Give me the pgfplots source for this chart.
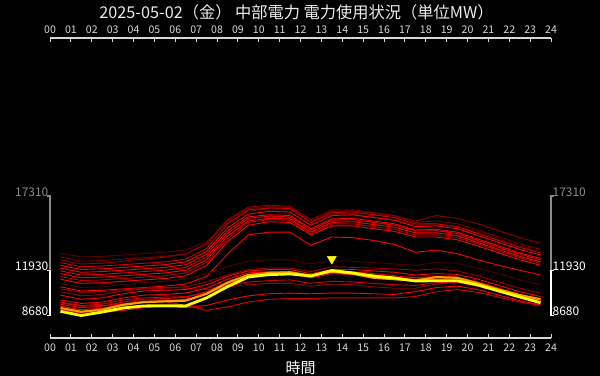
\documentclass[border=0pt]{standalone}
\usepackage{pgfplots}
\pgfplotsset{compat=1.18}
\usepackage{fontspec}
\setmainfont{Noto Sans CJK JP}
\usetikzlibrary{backgrounds}
\definecolor{axgray}{HTML}{D8D8D8}
\definecolor{lblgray}{HTML}{8A8A8A}
\definecolor{todayyellow}{HTML}{FFFF00}
\definecolor{yestorange}{HTML}{FF9A00}
\begin{document}
\begin{tikzpicture}
\pgfplotsset{
  base/.style={
    scale only axis, width=501bp, height=300bp,
    xmin=0, xmax=24, ymin=7055, ymax=28716,
    xtick={0,1,...,24},
    xticklabels={00,01,02,03,04,05,06,07,08,09,10,11,12,13,14,15,16,17,18,19,20,21,22,23,24},
    ytick={8680,11930,17310},
    yticklabels={\textcolor{white}{8680},\textcolor{white}{11930},\textcolor{lblgray}{17310}},
    /pgf/number format/assume math mode=true,
    clip=false,
    x axis line style={axgray, line width=1.2bp, -},
    y axis line style={draw=none},
    xtick style={axgray, line width=1bp},
    ytick style={draw=none},
    major tick length=4bp,
    tick align=inside,
    xticklabel style={font=\fontsize{10.6}{12}\selectfont, text=axgray, inner sep=0.3bp},
    yticklabel style={font=\fontsize{12}{13}\selectfont, yshift=4bp, inner sep=1.5bp},
  },
  ln/.style={no marks, line join=round, line width=0.9bp},
}
\begin{axis}[base, name=ax,
  axis x line*=bottom, axis y line*=left,
  xticklabel style={yshift=-5.5bp},
  xlabel={時間}, xlabel style={font=\fontsize{15}{17}\selectfont, text=white, yshift=-5bp},
]
% y brackets
\addplot[no marks, white, line width=1.5bp] coordinates {(-0.12,8680)(0,8680)(0,11930)(-0.12,11930)};
\addplot[no marks, lblgray, line width=1.5bp] coordinates {(0,11930)(0,17310)(-0.12,17310)};
\addplot[no marks, white, line width=1.5bp] coordinates {(24.12,8680)(24,8680)(24,11930)(24.12,11930)};
\addplot[no marks, lblgray, line width=1.5bp] coordinates {(24,11930)(24,17310)(24.12,17310)};
% upper band
\addplot[ln, red!35!black] coordinates {(0.5,13200)(1.5,12900)(2.5,12950)(3.5,13050)(4.5,13150)(5.5,13250)(6.5,13400)(7.5,14000)(8.5,15400)(9.5,16200)(10.5,16400)(11.5,16350)(12.5,15400)(13.5,16000)(14.5,16000)(15.5,15800)(16.5,15600)(17.5,15200)(18.5,15300)(19.5,15100)(20.5,14700)(21.5,14200)(22.5,13700)(23.5,13300)};
\addplot[ln, red!45!black] coordinates {(0.5,12900)(1.5,12600)(2.5,12650)(3.5,12750)(4.5,12850)(5.5,12950)(6.5,13150)(7.5,13800)(8.5,15500)(9.5,16400)(10.5,16550)(11.5,16500)(12.5,15500)(13.5,16200)(14.5,16250)(15.5,16050)(16.5,15850)(17.5,15400)(18.5,15500)(19.5,15300)(20.5,14850)(21.5,14350)(22.5,13850)(23.5,13450)};
\addplot[ln, red!55!black] coordinates {(0.5,12700)(1.5,12400)(2.5,12450)(3.5,12600)(4.5,12750)(5.5,12900)(6.5,13100)(7.5,13900)(8.5,15600)(9.5,16500)(10.5,16650)(11.5,16550)(12.5,15600)(13.5,16300)(14.5,16300)(15.5,16100)(16.5,15900)(17.5,15500)(18.5,15900)(19.5,15700)(20.5,15300)(21.5,14800)(22.5,14300)(23.5,13900)};
\addplot[ln, red!80!black] coordinates {(0.5,12500)(1.5,12200)(2.5,12250)(3.5,12350)(4.5,12450)(5.5,12550)(6.5,12750)(7.5,13500)(8.5,15300)(9.5,16300)(10.5,16450)(11.5,16400)(12.5,15400)(13.5,16100)(14.5,16150)(15.5,15950)(16.5,15750)(17.5,15300)(18.5,15300)(19.5,15100)(20.5,14600)(21.5,14100)(22.5,13600)(23.5,13200)};
\addplot[ln, red] coordinates {(0.5,12300)(1.5,12000)(2.5,12050)(3.5,12150)(4.5,12250)(5.5,12350)(6.5,12550)(7.5,13300)(8.5,15000)(9.5,16000)(10.5,16200)(11.5,16150)(12.5,15200)(13.5,15900)(14.5,15950)(15.5,15750)(16.5,15550)(17.5,15100)(18.5,15150)(19.5,14950)(20.5,14450)(21.5,13950)(22.5,13450)(23.5,13050)};
\addplot[ln, red] coordinates {(0.5,12100)(1.5,11800)(2.5,11850)(3.5,11950)(4.5,12050)(5.5,12150)(6.5,12350)(7.5,13100)(8.5,14800)(9.5,15800)(10.5,15950)(11.5,15900)(12.5,14950)(13.5,15650)(14.5,15700)(15.5,15500)(16.5,15300)(17.5,14850)(18.5,14900)(19.5,14700)(20.5,14200)(21.5,13700)(22.5,13200)(23.5,12800)};
\addplot[ln, red!90!black] coordinates {(0.5,11900)(1.5,11600)(2.5,11650)(3.5,11750)(4.5,11850)(5.5,11950)(6.5,12150)(7.5,12900)(8.5,14600)(9.5,15700)(10.5,15850)(11.5,15800)(12.5,14850)(13.5,15550)(14.5,15600)(15.5,15400)(16.5,15200)(17.5,14800)(18.5,14800)(19.5,14600)(20.5,14100)(21.5,13600)(22.5,13100)(23.5,12700)};
\addplot[ln, red] coordinates {(0.5,11700)(1.5,11400)(2.5,11450)(3.5,11550)(4.5,11650)(5.5,11750)(6.5,11950)(7.5,12700)(8.5,14400)(9.5,15500)(10.5,15700)(11.5,15650)(12.5,14700)(13.5,15400)(14.5,15450)(15.5,15250)(16.5,15050)(17.5,14650)(18.5,14650)(19.5,14450)(20.5,13950)(21.5,13450)(22.5,12950)(23.5,12550)};
\addplot[ln, red!70!black] coordinates {(0.5,11500)(1.5,11200)(2.5,11250)(3.5,11350)(4.5,11450)(5.5,11550)(6.5,11750)(7.5,12500)(8.5,14200)(9.5,15400)(10.5,15600)(11.5,15550)(12.5,14600)(13.5,15300)(14.5,15300)(15.5,15100)(16.5,14900)(17.5,14500)(18.5,14500)(19.5,14300)(20.5,13850)(21.5,13350)(22.5,12850)(23.5,12450)};
\addplot[ln, red] coordinates {(0.5,11300)(1.5,11000)(2.5,11050)(3.5,11150)(4.5,11250)(5.5,11350)(6.5,11550)(7.5,12300)(8.5,14000)(9.5,15200)(10.5,15450)(11.5,15400)(12.5,14500)(13.5,15150)(14.5,15150)(15.5,14950)(16.5,14750)(17.5,14350)(18.5,14350)(19.5,14150)(20.5,13700)(21.5,13200)(22.5,12700)(23.5,12300)};
\addplot[ln, red] coordinates {(0.5,10750)(1.5,10450)(2.5,10500)(3.5,10600)(4.5,10700)(5.5,10800)(6.5,10950)(7.5,11500)(8.5,13100)(9.5,14500)(10.5,14700)(11.5,14700)(12.5,13750)(13.5,14350)(14.5,14300)(15.5,14100)(16.5,13800)(17.5,13250)(18.5,13400)(19.5,13150)(20.5,12700)(21.5,12300)(22.5,11950)(23.5,11600)};
% lower band
\addplot[ln, red!30!black] coordinates {(0.5,11000)(1.5,10700)(2.5,10750)(3.5,10900)(4.5,11050)(5.5,11150)(6.5,11300)(7.5,11700)(8.5,12200)(9.5,12600)(10.5,12700)(11.5,12700)(12.5,12400)(13.5,12650)(14.5,12600)(15.5,12500)(16.5,12400)(17.5,12300)(18.5,12500)(19.5,12450)(20.5,12100)(21.5,11700)(22.5,11250)(23.5,10900)};
\addplot[ln, red!60!black] coordinates {(0.5,10600)(1.5,10350)(2.5,10400)(3.5,10550)(4.5,10650)(5.5,10700)(6.5,10650)(7.5,10550)(8.5,10750)(9.5,10900)(10.5,11000)(11.5,11000)(12.5,10800)(13.5,10950)(14.5,10900)(15.5,10750)(16.5,10650)(17.5,10650)(18.5,10950)(19.5,11050)(20.5,10800)(21.5,10400)(22.5,10000)(23.5,9750)};
\addplot[ln, red!60!black] coordinates {(0.5,10400)(1.5,10100)(2.5,10200)(3.5,10450)(4.5,10600)(5.5,10650)(6.5,10750)(7.5,11100)(8.5,11600)(9.5,12000)(10.5,12100)(11.5,12100)(12.5,11850)(13.5,12200)(14.5,12150)(15.5,12100)(16.5,12050)(17.5,11950)(18.5,12050)(19.5,11900)(20.5,11550)(21.5,11100)(22.5,10650)(23.5,10300)};
\addplot[ln, red] coordinates {(0.5,10150)(1.5,9850)(2.5,9950)(3.5,10250)(4.5,10450)(5.5,10500)(6.5,10550)(7.5,10900)(8.5,11500)(9.5,11900)(10.5,12000)(11.5,12000)(12.5,11700)(13.5,12000)(14.5,12000)(15.5,11900)(16.5,11800)(17.5,11600)(18.5,11700)(19.5,11650)(20.5,11300)(21.5,10850)(22.5,10400)(23.5,10050)};
\addplot[ln, red] coordinates {(0.5,9800)(1.5,9550)(2.5,9650)(3.5,9950)(4.5,10150)(5.5,10200)(6.5,10300)(7.5,10650)(8.5,11300)(9.5,11750)(10.5,11850)(11.5,11850)(12.5,11550)(13.5,11900)(14.5,11850)(15.5,11700)(16.5,11550)(17.5,11400)(18.5,11500)(19.5,11450)(20.5,11100)(21.5,10650)(22.5,10200)(23.5,9900)};
\addplot[ln, red!85!black] coordinates {(0.5,9650)(1.5,9400)(2.5,9500)(3.5,9800)(4.5,9950)(5.5,10000)(6.5,10050)(7.5,10300)(8.5,10800)(9.5,11100)(10.5,11200)(11.5,11250)(12.5,11000)(13.5,11150)(14.5,11100)(15.5,11000)(16.5,10900)(17.5,10850)(18.5,11050)(19.5,11100)(20.5,10800)(21.5,10400)(22.5,10000)(23.5,9700)};
\addplot[ln, red!90!black] coordinates {(0.5,9500)(1.5,9250)(2.5,9350)(3.5,9650)(4.5,9850)(5.5,9900)(6.5,10000)(7.5,10400)(8.5,11100)(9.5,11650)(10.5,11800)(11.5,11800)(12.5,11500)(13.5,11800)(14.5,11750)(15.5,11600)(16.5,11450)(17.5,11300)(18.5,11400)(19.5,11350)(20.5,11000)(21.5,10550)(22.5,10100)(23.5,9750)};
\addplot[ln, red] coordinates {(0.5,9350)(1.5,9100)(2.5,9200)(3.5,9500)(4.5,9700)(5.5,9750)(6.5,9850)(7.5,10200)(8.5,10900)(9.5,11500)(10.5,11650)(11.5,11700)(12.5,11400)(13.5,11700)(14.5,11650)(15.5,11500)(16.5,11350)(17.5,11150)(18.5,11250)(19.5,11200)(20.5,10850)(21.5,10400)(22.5,9950)(23.5,9650)};
\addplot[ln, red] coordinates {(0.5,9100)(1.5,8850)(2.5,8900)(3.5,9050)(4.5,9250)(5.5,9300)(6.5,9250)(7.5,9400)(8.5,9800)(9.5,10100)(10.5,10250)(11.5,10300)(12.5,10250)(13.5,10300)(14.5,10300)(15.5,10250)(16.5,10200)(17.5,10400)(18.5,10700)(19.5,10800)(20.5,10550)(21.5,10150)(22.5,9750)(23.5,9450)};
\addplot[ln, red!85!black] coordinates {(0.5,9600)(1.5,9350)(2.5,9400)(3.5,9500)(4.5,9650)(5.5,9700)(6.5,9400)(7.5,9050)(8.5,9300)(9.5,9650)(10.5,9850)(11.5,9900)(12.5,9900)(13.5,9950)(14.5,9950)(15.5,9950)(16.5,9950)(17.5,10050)(18.5,10400)(19.5,10550)(20.5,10350)(21.5,10000)(22.5,9650)(23.5,9400)};
% yesterday
\addplot[ln, yestorange, line width=2.2bp] coordinates {(0.5,9220)(1.5,8950)(2.5,9100)(3.5,9450)(4.5,9650)(5.5,9700)(6.5,9750)(7.5,10250)(8.5,11050)(9.5,11600)(10.5,11750)(11.5,11800)(12.5,11550)(13.5,11850)(14.5,11700)(15.5,11400)(16.5,11300)(17.5,11200)(18.5,11450)(19.5,11400)(20.5,11000)(21.5,10550)(22.5,10150)(23.5,9850)};
% today
\addplot[ln, todayyellow, line width=2.8bp] coordinates {(0.5,8980)(1.5,8680)(2.5,8930)(3.5,9220)(4.5,9370)(5.5,9390)(6.5,9370)(7.5,9950)(8.5,10760)(9.5,11460)(10.5,11630)(11.5,11680)(12.5,11530)(13.5,11930)(14.5,11750)(15.5,11530)(16.5,11390)(17.5,11170)(18.5,11190)(19.5,11190)(20.5,10880)(21.5,10450)(22.5,10020)(23.5,9600)};
% peak marker
\addplot[only marks, todayyellow, mark=triangle*, mark size=5.2bp, mark options={rotate=180, fill=todayyellow, draw=todayyellow, solid}] coordinates {(13.5,12760)};
\end{axis}
\begin{axis}[base,
  axis x line*=top, axis y line*=right,
  xticklabel style={yshift=3.5bp},
]
\end{axis}
\node[text=white!92!black, font=\fontsize{16.3}{18}\selectfont] at ([xshift=-4bp, yshift=26bp]ax.north) {2025-05-02（金） 中部電力 電力使用状況（単位MW）};
\pgfresetboundingbox
\path[use as bounding box] ([xshift=-50bp,yshift=-38bp]ax.south west) rectangle ([xshift=49bp,yshift=38bp]ax.north east);
\begin{scope}[on background layer]
\fill[black] ([xshift=-50bp,yshift=-38bp]ax.south west) rectangle ([xshift=49bp,yshift=38bp]ax.north east);
\end{scope}
\end{tikzpicture}
\end{document}
